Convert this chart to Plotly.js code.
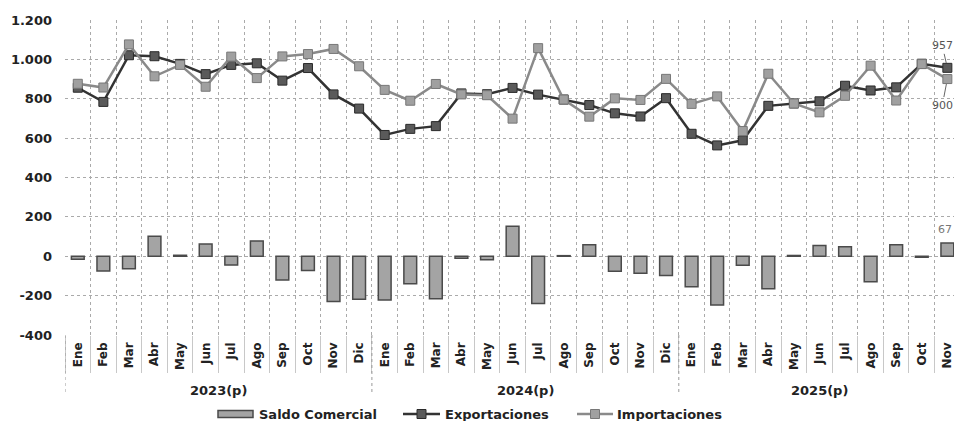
<!DOCTYPE html>
<html>
<head>
<meta charset="utf-8">
<script src="https://cdn.plot.ly/plotly-3.0.1.min.js"></script>
<style>html,body{margin:0;padding:0;background:#fff;}#chart{width:954px;height:421px;}</style>
</head>
<body>
<div id="chart"></div>
<script>
// Categories
const months = ['Ene','Feb','Mar','Abr','May','Jun','Jul','Ago','Sep','Oct','Nov','Dic',
                'Ene','Feb','Mar','Abr','May','Jun','Jul','Ago','Sep','Oct','Nov','Dic',
                'Ene','Feb','Mar','Abr','May','Jun','Jul','Ago','Sep','Oct','Nov'];
const yearLabels = ['2023(p)','2024(p)','2025(p)'];
const monthsPerYear = [12, 12, 11];

// Series names
const seriesNames = ['Saldo Comercial','Exportaciones','Importaciones'];

// Series (millones)
const saldo = [-15,-75,-64,101,5,62,-45,78,-121,-72,-230,-218,
               -222,-140,-216,-10,-18,152,-240,3,59,-76,-86,-98,
               -155,-248,-46,-165,4,54,48,-130,58,-5,67];
const exportaciones = [856,784,1021,1016,977,925,972,980,892,956,822,750,
                       616,647,661,827,823,855,821,796,768,726,710,803,
                       622,563,589,764,776,787,866,842,858,978,957];
const importaciones = [876,857,1076,914,972,861,1014,905,1015,1027,1053,965,
                       845,790,875,822,818,699,1057,796,709,802,794,901,
                       774,812,636,927,776,731,815,968,791,976,900];

// Axis ticks
const yTickVals = [-400,-200,0,200,400,600,800,1000,1200];
const yTickText = ['-400','-200','0','200','400','600','800','1.000','1.200'];

const idx = months.map((m,i)=>i);
const last = months.length - 1;
const FONT = 'DejaVu Sans, Arial, sans-serif';

const BAR_FILL = '#a4a4a4', BAR_LINE = '#4a4a4a';
const EXP_LINE = '#333333', EXP_MK = '#5a5a5a', EXP_MKL = '#2a2a2a';
const IMP_LINE = '#8a8a8a', IMP_MK = '#a0a0a0', IMP_MKL = '#777777';

const traces = [
  {type:'bar', name:seriesNames[0], x:idx, y:saldo, width:0.5,
   marker:{color:BAR_FILL, line:{color:BAR_LINE, width:1.5}}},
  {type:'scatter', mode:'lines+markers', name:seriesNames[1], x:idx, y:exportaciones,
   line:{color:EXP_LINE, width:2.5},
   marker:{symbol:'square', size:9, color:EXP_MK, line:{color:EXP_MKL, width:1}}},
  {type:'scatter', mode:'lines+markers', name:seriesNames[2], x:idx, y:importaciones,
   line:{color:IMP_LINE, width:2.5},
   marker:{symbol:'square', size:9, color:IMP_MK, line:{color:IMP_MKL, width:1}}}
];

const annotations = [];
const shapes = [];

// year group labels and separators
let start = 0;
yearLabels.forEach((lab, k) => {
  const n = monthsPerYear[k];
  annotations.push({xref:'x', yref:'paper', x:start + (n-1)/2, y:-0.175, text:lab,
    showarrow:false, xanchor:'center', yanchor:'middle',
    font:{family:FONT, size:13, color:'#222', weight:'bold'}});
  shapes.push({type:'line', xref:'x', yref:'paper', x0:start-0.5, x1:start-0.5, y0:0, y1:-0.19,
    line:{color:'#999', width:1, dash:'dot'}});
  start += n;
});

// data labels for the last month
annotations.push({x:last, y:exportaciones[last], xref:'x', yref:'y', text:String(exportaciones[last]),
  showarrow:true, arrowhead:0, arrowwidth:1, arrowcolor:'#666', ax:-5, ay:-22, standoff:5,
  font:{family:FONT, size:11, color:'#555'}});
annotations.push({x:last, y:importaciones[last], xref:'x', yref:'y', text:String(importaciones[last]),
  showarrow:true, arrowhead:0, arrowwidth:1, arrowcolor:'#666', ax:-5, ay:26, standoff:5,
  font:{family:FONT, size:11, color:'#555'}});
annotations.push({x:last, y:saldo[last], xref:'x', yref:'y', text:String(saldo[last]),
  showarrow:false, yanchor:'bottom', yshift:5, xshift:-2,
  font:{family:FONT, size:11, color:'#777'}});

// custom legend (paper coordinates; plot spans 65..954 px horizontally, 20..335 px vertically)
const W = 889, H = 315, L = 65, B = 335;
const px = v => (v - L) / W;
const py = v => (B - v) / H;
const legY = py(414);
shapes.push({type:'rect', xref:'paper', yref:'paper', x0:px(218), x1:px(253), y0:py(417.5), y1:py(410.5),
  fillcolor:BAR_FILL, line:{color:BAR_LINE, width:1.5}});
[[403,440,EXP_LINE,EXP_MK,EXP_MKL],[577,613,IMP_LINE,IMP_MK,IMP_MKL]].forEach(s => {
  shapes.push({type:'line', xref:'paper', yref:'paper', x0:px(s[0]), x1:px(s[1]), y0:legY, y1:legY,
    line:{color:s[2], width:2.5}});
  const c = (s[0]+s[1])/2;
  shapes.push({type:'rect', xref:'paper', yref:'paper', x0:px(c-4.5), x1:px(c+4.5), y0:py(418.5), y1:py(409.5),
    fillcolor:s[3], line:{color:s[4], width:1}});
});
[[257,seriesNames[0]],[443,seriesNames[1]],[615,seriesNames[2]]].forEach(t => {
  annotations.push({xref:'paper', yref:'paper', x:px(t[0]), y:legY, text:t[1], showarrow:false,
    xanchor:'left', yanchor:'middle', font:{family:FONT, size:13, color:'#222', weight:'bold'}});
});

const layout = {
  width:954, height:421,
  margin:{l:65, r:0, t:20, b:86, pad:0},
  paper_bgcolor:'#fff', plot_bgcolor:'#fff',
  font:{family:FONT, color:'#222'},
  showlegend:false,
  bargap:0.5,
  xaxis:{type:'linear', range:[-0.5, 34.26], tickmode:'array', tickvals:idx, ticktext:months,
    tickangle:-90, ticks:'', showgrid:false, zeroline:false, showline:false, ticklabeloverflow:'allow',
    tickfont:{family:FONT, size:12, color:'#222', weight:'bold'}, ticklabelstandoff:4,
    minor:{tick0:-0.5, dtick:1, showgrid:true, gridcolor:'#aaa', griddash:'dot', gridwidth:1,
      ticks:'outside', ticklen:37, tickcolor:'#c8c8c8', tickwidth:1}},
  yaxis:{range:[-400,1200], tickmode:'array', tickvals:yTickVals, ticktext:yTickText,
    showgrid:true, gridcolor:'#aaa', griddash:'dot', gridwidth:1, zeroline:false, showline:false,
    ticks:'', ticklabelstandoff:12,
    tickfont:{family:FONT, size:13, color:'#222', weight:'bold'}},
  annotations:annotations,
  shapes:shapes
};

Plotly.newPlot('chart', traces, layout, {displayModeBar:false, staticPlot:true});
</script>
</body>
</html>
